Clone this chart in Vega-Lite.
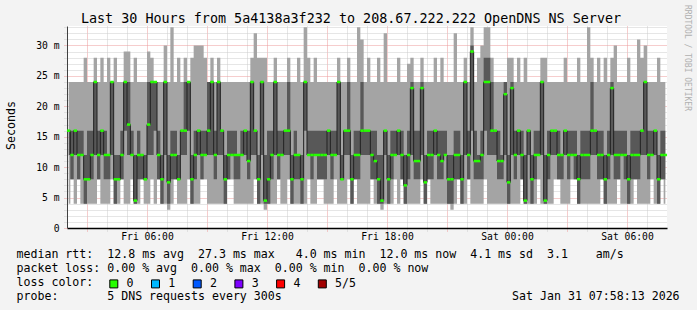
{
"$schema":"https://vega.github.io/schema/vega-lite/v6.json",
"width":600,"height":202,
"autosize":{"type":"none"},
"padding":{"left":67,"top":26,"right":30,"bottom":82},
"background":"#f3f3f3",
"title":{"text":"Last 30 Hours from 5a4138a3f232 to 208.67.222.222 OpenDNS NS Server","font":"DejaVu Sans Mono","fontSize":13.4,"fontWeight":"normal","color":"#000000","anchor":"middle","frame":"group","dx":-16,"dy":34,"baseline":"alphabetic","offset":2},
"data":{"values":[
{"t":"2026-01-30T02:05","lo":4,"q1":12,"med":16,"q3":16,"hi":24},
{"t":"2026-01-30T02:15","lo":8,"q1":8,"med":12,"q3":16,"hi":24},
{"t":"2026-01-30T02:25","lo":4,"q1":12,"med":16,"q3":16,"hi":24},
{"t":"2026-01-30T02:35","lo":8,"q1":8,"med":12,"q3":16,"hi":24},
{"t":"2026-01-30T02:45","lo":4,"q1":12,"med":12,"q3":16,"hi":24},
{"t":"2026-01-30T02:55","lo":4,"q1":4,"med":8,"q3":12,"hi":28},
{"t":"2026-01-30T03:05","lo":4,"q1":8,"med":8,"q3":16,"hi":24},
{"t":"2026-01-30T03:15","lo":4,"q1":8,"med":12,"q3":16,"hi":24},
{"t":"2026-01-30T03:25","lo":4,"q1":12,"med":24,"q3":24,"hi":28},
{"t":"2026-01-30T03:35","lo":8,"q1":8,"med":12,"q3":16,"hi":24},
{"t":"2026-01-30T03:45","lo":4,"q1":12,"med":16,"q3":16,"hi":28},
{"t":"2026-01-30T03:55","lo":4,"q1":8,"med":12,"q3":16,"hi":24},
{"t":"2026-01-30T04:05","lo":4,"q1":8,"med":12,"q3":12,"hi":28},
{"t":"2026-01-30T04:15","lo":8,"q1":12,"med":24,"q3":24,"hi":24},
{"t":"2026-01-30T04:25","lo":4,"q1":4,"med":8,"q3":12,"hi":28},
{"t":"2026-01-30T04:35","lo":4,"q1":8,"med":8,"q3":12,"hi":24},
{"t":"2026-01-30T04:45","lo":8,"q1":8,"med":12,"q3":16,"hi":24},
{"t":"2026-01-30T04:55","lo":4,"q1":16,"med":24,"q3":24,"hi":29},
{"t":"2026-01-30T05:05","lo":4,"q1":12,"med":17,"q3":24,"hi":29},
{"t":"2026-01-30T05:15","lo":8,"q1":12,"med":12,"q3":16,"hi":24},
{"t":"2026-01-30T05:25","lo":4,"q1":4,"med":4.5,"q3":12,"hi":28},
{"t":"2026-01-30T05:35","lo":4,"q1":8,"med":12,"q3":16,"hi":24},
{"t":"2026-01-30T05:45","lo":8,"q1":8,"med":12,"q3":12,"hi":24},
{"t":"2026-01-30T05:55","lo":4,"q1":8,"med":8,"q3":12,"hi":24},
{"t":"2026-01-30T06:05","lo":4,"q1":12,"med":17,"q3":24,"hi":29},
{"t":"2026-01-30T06:15","lo":8,"q1":12,"med":24,"q3":24,"hi":28},
{"t":"2026-01-30T06:25","lo":4,"q1":16,"med":24,"q3":24,"hi":24},
{"t":"2026-01-30T06:35","lo":8,"q1":8,"med":12,"q3":16,"hi":24},
{"t":"2026-01-30T06:45","lo":4,"q1":4,"med":8,"q3":12,"hi":24},
{"t":"2026-01-30T06:55","lo":4,"q1":12,"med":24,"q3":24,"hi":30},
{"t":"2026-01-30T07:05","lo":3,"q1":4,"med":7.5,"q3":12,"hi":24},
{"t":"2026-01-30T07:15","lo":4,"q1":8,"med":12,"q3":16,"hi":33},
{"t":"2026-01-30T07:25","lo":8,"q1":8,"med":12,"q3":16,"hi":24},
{"t":"2026-01-30T07:35","lo":4,"q1":8,"med":8,"q3":12,"hi":28},
{"t":"2026-01-30T07:45","lo":4,"q1":12,"med":16,"q3":16,"hi":24},
{"t":"2026-01-30T07:55","lo":4,"q1":12,"med":16,"q3":24,"hi":28},
{"t":"2026-01-30T08:05","lo":8,"q1":16,"med":24,"q3":24,"hi":24},
{"t":"2026-01-30T08:15","lo":4,"q1":4,"med":8,"q3":12,"hi":28},
{"t":"2026-01-30T08:25","lo":4,"q1":8,"med":12,"q3":16,"hi":30},
{"t":"2026-01-30T08:35","lo":4,"q1":12,"med":16,"q3":16,"hi":30},
{"t":"2026-01-30T08:45","lo":8,"q1":8,"med":12,"q3":16,"hi":30},
{"t":"2026-01-30T08:55","lo":8,"q1":12,"med":12,"q3":16,"hi":28},
{"t":"2026-01-30T09:05","lo":4,"q1":12,"med":16,"q3":24,"hi":24},
{"t":"2026-01-30T09:15","lo":4,"q1":12,"med":24,"q3":24,"hi":28},
{"t":"2026-01-30T09:25","lo":4,"q1":8,"med":12,"q3":16,"hi":24},
{"t":"2026-01-30T09:35","lo":4,"q1":12,"med":24,"q3":24,"hi":28},
{"t":"2026-01-30T09:45","lo":4,"q1":12,"med":16,"q3":16,"hi":24},
{"t":"2026-01-30T09:55","lo":4,"q1":4,"med":8,"q3":12,"hi":24},
{"t":"2026-01-30T10:05","lo":8,"q1":8,"med":12,"q3":16,"hi":24},
{"t":"2026-01-30T10:15","lo":8,"q1":12,"med":12,"q3":16,"hi":24},
{"t":"2026-01-30T10:25","lo":4,"q1":8,"med":12,"q3":16,"hi":24},
{"t":"2026-01-30T10:35","lo":4,"q1":8,"med":12,"q3":12,"hi":24},
{"t":"2026-01-30T10:45","lo":4,"q1":12,"med":12,"q3":16,"hi":24},
{"t":"2026-01-30T10:55","lo":4,"q1":12,"med":16,"q3":16,"hi":24},
{"t":"2026-01-30T11:05","lo":4,"q1":8,"med":11,"q3":16,"hi":24},
{"t":"2026-01-30T11:15","lo":4,"q1":12,"med":24,"q3":24,"hi":28},
{"t":"2026-01-30T11:25","lo":8,"q1":12,"med":16,"q3":16,"hi":32},
{"t":"2026-01-30T11:35","lo":4,"q1":4,"med":8,"q3":12,"hi":28},
{"t":"2026-01-30T11:45","lo":4,"q1":12,"med":24,"q3":24,"hi":28},
{"t":"2026-01-30T11:55","lo":3,"q1":4,"med":4.5,"q3":12,"hi":28},
{"t":"2026-01-30T12:05","lo":4,"q1":4,"med":8,"q3":16,"hi":24},
{"t":"2026-01-30T12:15","lo":4,"q1":8,"med":12,"q3":16,"hi":24},
{"t":"2026-01-30T12:25","lo":4,"q1":12,"med":24,"q3":24,"hi":28},
{"t":"2026-01-30T12:35","lo":8,"q1":8,"med":12,"q3":16,"hi":24},
{"t":"2026-01-30T12:45","lo":4,"q1":12,"med":12,"q3":16,"hi":24},
{"t":"2026-01-30T12:55","lo":4,"q1":12,"med":16,"q3":16,"hi":24},
{"t":"2026-01-30T13:05","lo":8,"q1":12,"med":16,"q3":24,"hi":28},
{"t":"2026-01-30T13:15","lo":4,"q1":4,"med":8,"q3":12,"hi":24},
{"t":"2026-01-30T13:25","lo":4,"q1":8,"med":12,"q3":16,"hi":24},
{"t":"2026-01-30T13:35","lo":4,"q1":8,"med":12,"q3":12,"hi":28},
{"t":"2026-01-30T13:45","lo":4,"q1":4,"med":8,"q3":12,"hi":24},
{"t":"2026-01-30T13:55","lo":4,"q1":16,"med":24,"q3":24,"hi":33},
{"t":"2026-01-30T14:05","lo":8,"q1":12,"med":12,"q3":16,"hi":28},
{"t":"2026-01-30T14:15","lo":4,"q1":8,"med":12,"q3":16,"hi":24},
{"t":"2026-01-30T14:25","lo":4,"q1":12,"med":12,"q3":16,"hi":28},
{"t":"2026-01-30T14:35","lo":8,"q1":8,"med":12,"q3":16,"hi":24},
{"t":"2026-01-30T14:45","lo":8,"q1":8,"med":12,"q3":16,"hi":24},
{"t":"2026-01-30T14:55","lo":4,"q1":8,"med":12,"q3":16,"hi":24},
{"t":"2026-01-30T15:05","lo":4,"q1":12,"med":16,"q3":16,"hi":24},
{"t":"2026-01-30T15:15","lo":4,"q1":8,"med":12,"q3":16,"hi":24},
{"t":"2026-01-30T15:25","lo":8,"q1":12,"med":12,"q3":16,"hi":24},
{"t":"2026-01-30T15:35","lo":4,"q1":12,"med":24,"q3":24,"hi":28},
{"t":"2026-01-30T15:45","lo":4,"q1":8,"med":8,"q3":12,"hi":24},
{"t":"2026-01-30T15:55","lo":4,"q1":12,"med":16,"q3":16,"hi":24},
{"t":"2026-01-30T16:05","lo":8,"q1":12,"med":16,"q3":24,"hi":28},
{"t":"2026-01-30T16:15","lo":4,"q1":4,"med":8,"q3":12,"hi":24},
{"t":"2026-01-30T16:25","lo":8,"q1":8,"med":12,"q3":16,"hi":24},
{"t":"2026-01-30T16:35","lo":4,"q1":8,"med":12,"q3":16,"hi":33},
{"t":"2026-01-30T16:45","lo":4,"q1":12,"med":16,"q3":24,"hi":31},
{"t":"2026-01-30T16:55","lo":4,"q1":12,"med":16,"q3":16,"hi":24},
{"t":"2026-01-30T17:05","lo":4,"q1":12,"med":16,"q3":16,"hi":28},
{"t":"2026-01-30T17:15","lo":8,"q1":8,"med":12,"q3":16,"hi":24},
{"t":"2026-01-30T17:25","lo":4,"q1":8,"med":11,"q3":16,"hi":24},
{"t":"2026-01-30T17:35","lo":4,"q1":4,"med":8,"q3":12,"hi":28},
{"t":"2026-01-30T17:45","lo":3,"q1":4,"med":4.5,"q3":12,"hi":24},
{"t":"2026-01-30T17:55","lo":4,"q1":12,"med":16,"q3":16,"hi":32},
{"t":"2026-01-30T18:05","lo":4,"q1":4,"med":8,"q3":12,"hi":24},
{"t":"2026-01-30T18:15","lo":4,"q1":8,"med":12,"q3":16,"hi":24},
{"t":"2026-01-30T18:25","lo":8,"q1":12,"med":12,"q3":16,"hi":24},
{"t":"2026-01-30T18:35","lo":4,"q1":12,"med":16,"q3":16,"hi":28},
{"t":"2026-01-30T18:45","lo":8,"q1":8,"med":12,"q3":16,"hi":24},
{"t":"2026-01-30T18:55","lo":4,"q1":4,"med":7,"q3":12,"hi":24},
{"t":"2026-01-30T19:05","lo":4,"q1":8,"med":12,"q3":16,"hi":27},
{"t":"2026-01-30T19:15","lo":4,"q1":12,"med":23,"q3":24,"hi":28},
{"t":"2026-01-30T19:25","lo":4,"q1":8,"med":11,"q3":16,"hi":24},
{"t":"2026-01-30T19:35","lo":4,"q1":8,"med":11,"q3":16,"hi":24},
{"t":"2026-01-30T19:45","lo":8,"q1":12,"med":23,"q3":24,"hi":28},
{"t":"2026-01-30T19:55","lo":4,"q1":4,"med":7.5,"q3":12,"hi":24},
{"t":"2026-01-30T20:05","lo":8,"q1":8,"med":12,"q3":16,"hi":24},
{"t":"2026-01-30T20:15","lo":4,"q1":8,"med":12,"q3":16,"hi":24},
{"t":"2026-01-30T20:25","lo":4,"q1":12,"med":16,"q3":16,"hi":28},
{"t":"2026-01-30T20:35","lo":4,"q1":8,"med":12,"q3":16,"hi":24},
{"t":"2026-01-30T20:45","lo":4,"q1":8,"med":11,"q3":16,"hi":28},
{"t":"2026-01-30T20:55","lo":4,"q1":12,"med":12,"q3":16,"hi":24},
{"t":"2026-01-30T21:05","lo":4,"q1":4,"med":8,"q3":12,"hi":24},
{"t":"2026-01-30T21:15","lo":3,"q1":4,"med":8,"q3":12,"hi":24},
{"t":"2026-01-30T21:25","lo":4,"q1":8,"med":12,"q3":16,"hi":32},
{"t":"2026-01-30T21:35","lo":8,"q1":8,"med":12,"q3":16,"hi":24},
{"t":"2026-01-30T21:45","lo":4,"q1":4,"med":8,"q3":12,"hi":24},
{"t":"2026-01-30T21:55","lo":4,"q1":12,"med":24,"q3":24,"hi":28},
{"t":"2026-01-30T22:05","lo":8,"q1":8,"med":12,"q3":16,"hi":24},
{"t":"2026-01-30T22:15","lo":4,"q1":16,"med":29,"q3":30,"hi":33},
{"t":"2026-01-30T22:25","lo":4,"q1":8,"med":11,"q3":16,"hi":24},
{"t":"2026-01-30T22:35","lo":4,"q1":8,"med":11,"q3":12,"hi":28},
{"t":"2026-01-30T22:45","lo":4,"q1":8,"med":12,"q3":16,"hi":30},
{"t":"2026-01-30T22:55","lo":8,"q1":16,"med":24,"q3":28,"hi":33},
{"t":"2026-01-30T23:05","lo":4,"q1":12,"med":24,"q3":28,"hi":33},
{"t":"2026-01-30T23:15","lo":4,"q1":12,"med":16,"q3":24,"hi":28},
{"t":"2026-01-30T23:25","lo":4,"q1":12,"med":16,"q3":16,"hi":24},
{"t":"2026-01-30T23:35","lo":4,"q1":8,"med":11,"q3":16,"hi":24},
{"t":"2026-01-30T23:45","lo":4,"q1":8,"med":11,"q3":12,"hi":24},
{"t":"2026-01-30T23:55","lo":4,"q1":12,"med":22,"q3":24,"hi":24},
{"t":"2026-01-31T00:05","lo":4,"q1":4,"med":7.5,"q3":12,"hi":28},
{"t":"2026-01-31T00:15","lo":4,"q1":12,"med":23,"q3":24,"hi":28},
{"t":"2026-01-31T00:25","lo":4,"q1":8,"med":12,"q3":16,"hi":24},
{"t":"2026-01-31T00:35","lo":4,"q1":12,"med":16,"q3":16,"hi":28},
{"t":"2026-01-31T00:45","lo":8,"q1":8,"med":12,"q3":16,"hi":24},
{"t":"2026-01-31T00:55","lo":4,"q1":4,"med":4.5,"q3":12,"hi":28},
{"t":"2026-01-31T01:05","lo":4,"q1":12,"med":16,"q3":16,"hi":24},
{"t":"2026-01-31T01:15","lo":4,"q1":4,"med":8,"q3":12,"hi":24},
{"t":"2026-01-31T01:25","lo":4,"q1":8,"med":12,"q3":16,"hi":24},
{"t":"2026-01-31T01:35","lo":8,"q1":12,"med":12,"q3":16,"hi":24},
{"t":"2026-01-31T01:45","lo":4,"q1":12,"med":24,"q3":24,"hi":28},
{"t":"2026-01-31T01:55","lo":4,"q1":4,"med":4.5,"q3":12,"hi":28},
{"t":"2026-01-31T02:05","lo":4,"q1":8,"med":12,"q3":16,"hi":24},
{"t":"2026-01-31T02:15","lo":4,"q1":12,"med":16,"q3":16,"hi":24},
{"t":"2026-01-31T02:25","lo":8,"q1":12,"med":16,"q3":16,"hi":24},
{"t":"2026-01-31T02:35","lo":8,"q1":8,"med":12,"q3":16,"hi":24},
{"t":"2026-01-31T02:45","lo":4,"q1":8,"med":12,"q3":12,"hi":24},
{"t":"2026-01-31T02:55","lo":4,"q1":12,"med":16,"q3":16,"hi":28},
{"t":"2026-01-31T03:05","lo":4,"q1":8,"med":12,"q3":16,"hi":24},
{"t":"2026-01-31T03:15","lo":8,"q1":12,"med":12,"q3":16,"hi":24},
{"t":"2026-01-31T03:25","lo":8,"q1":8,"med":12,"q3":16,"hi":24},
{"t":"2026-01-31T03:35","lo":4,"q1":4,"med":8,"q3":12,"hi":28},
{"t":"2026-01-31T03:45","lo":4,"q1":8,"med":12,"q3":16,"hi":24},
{"t":"2026-01-31T03:55","lo":4,"q1":8,"med":12,"q3":16,"hi":24},
{"t":"2026-01-31T04:05","lo":4,"q1":8,"med":12,"q3":16,"hi":33},
{"t":"2026-01-31T04:15","lo":4,"q1":12,"med":16,"q3":24,"hi":28},
{"t":"2026-01-31T04:25","lo":4,"q1":12,"med":16,"q3":16,"hi":24},
{"t":"2026-01-31T04:35","lo":4,"q1":8,"med":12,"q3":16,"hi":28},
{"t":"2026-01-31T04:45","lo":8,"q1":8,"med":12,"q3":16,"hi":24},
{"t":"2026-01-31T04:55","lo":4,"q1":4,"med":8,"q3":12,"hi":28},
{"t":"2026-01-31T05:05","lo":4,"q1":8,"med":12,"q3":16,"hi":24},
{"t":"2026-01-31T05:15","lo":4,"q1":12,"med":23,"q3":24,"hi":28},
{"t":"2026-01-31T05:25","lo":4,"q1":8,"med":12,"q3":16,"hi":30},
{"t":"2026-01-31T05:35","lo":8,"q1":8,"med":12,"q3":16,"hi":24},
{"t":"2026-01-31T05:45","lo":4,"q1":12,"med":12,"q3":16,"hi":24},
{"t":"2026-01-31T05:55","lo":4,"q1":8,"med":12,"q3":16,"hi":24},
{"t":"2026-01-31T06:05","lo":4,"q1":4,"med":8,"q3":12,"hi":28},
{"t":"2026-01-31T06:15","lo":4,"q1":8,"med":12,"q3":16,"hi":24},
{"t":"2026-01-31T06:25","lo":8,"q1":8,"med":12,"q3":16,"hi":24},
{"t":"2026-01-31T06:35","lo":4,"q1":8,"med":12,"q3":16,"hi":31},
{"t":"2026-01-31T06:45","lo":4,"q1":12,"med":16,"q3":16,"hi":28},
{"t":"2026-01-31T06:55","lo":4,"q1":12,"med":24,"q3":24,"hi":30},
{"t":"2026-01-31T07:05","lo":4,"q1":8,"med":12,"q3":16,"hi":24},
{"t":"2026-01-31T07:15","lo":8,"q1":12,"med":12,"q3":16,"hi":24},
{"t":"2026-01-31T07:25","lo":4,"q1":12,"med":16,"q3":16,"hi":24},
{"t":"2026-01-31T07:35","lo":4,"q1":4,"med":8,"q3":12,"hi":28},
{"t":"2026-01-31T07:45","lo":8,"q1":8,"med":12,"q3":16,"hi":24},
{"t":"2026-01-31T07:55","lo":4,"q1":8,"med":12,"q3":16,"hi":24}
]},
"layer":[
{"mark":{"type":"area","interpolate":"step","color":"#a4a4a4"},
 "encoding":{
  "x":{"field":"t","type":"temporal","scale":{"domain":[{"year":2026,"month":1,"date":30,"hours":2},{"year":2026,"month":1,"date":31,"hours":8}]},
   "axis":{"orient":"bottom","title":null,"labels":false,"domain":false,"grid":true,"gridColor":"#cccccc","gridDash":[1,1],"ticks":true,"tickSize":3,"tickColor":"#cccccc","tickDash":[1,1],
    "values":[{"year":2026,"month":1,"date":30,"hours":4},{"year":2026,"month":1,"date":30,"hours":5},{"year":2026,"month":1,"date":30,"hours":7},{"year":2026,"month":1,"date":30,"hours":8},{"year":2026,"month":1,"date":30,"hours":10},{"year":2026,"month":1,"date":30,"hours":11},{"year":2026,"month":1,"date":30,"hours":13},{"year":2026,"month":1,"date":30,"hours":14},{"year":2026,"month":1,"date":30,"hours":16},{"year":2026,"month":1,"date":30,"hours":17},{"year":2026,"month":1,"date":30,"hours":19},{"year":2026,"month":1,"date":30,"hours":20},{"year":2026,"month":1,"date":30,"hours":22},{"year":2026,"month":1,"date":30,"hours":23},{"year":2026,"month":1,"date":31,"hours":1},{"year":2026,"month":1,"date":31,"hours":2},{"year":2026,"month":1,"date":31,"hours":4},{"year":2026,"month":1,"date":31,"hours":5},{"year":2026,"month":1,"date":31,"hours":7}]}},
  "y":{"field":"lo","type":"quantitative","scale":{"domain":[0,33.2],"nice":false,"zero":true},
   "axis":{"orient":"left","title":null,"labels":false,"domain":false,"grid":true,"gridColor":"#cccccc","gridDash":[1,1],"ticks":true,"tickSize":3,"tickColor":"#cccccc","tickDash":[1,1],
    "values":[1,2,3,4,6,7,8,9,11,12,13,14,16,17,18,19,21,22,23,24,26,27,28,29,31,32,33]}},
  "y2":{"field":"hi"}}},
{"mark":{"type":"area","interpolate":"step","color":"#585858"},
 "encoding":{
  "x":{"field":"t","type":"temporal","scale":{"domain":[{"year":2026,"month":1,"date":30,"hours":2},{"year":2026,"month":1,"date":31,"hours":8}]},
   "axis":{"orient":"bottom","title":null,"labels":false,"domain":false,"grid":true,"gridColor":"#ec9a9a","gridDash":[1,1],"ticks":true,"tickSize":3,"tickColor":"#ec9a9a","tickDash":[1,1],
    "values":[{"year":2026,"month":1,"date":30,"hours":3},{"year":2026,"month":1,"date":30,"hours":6},{"year":2026,"month":1,"date":30,"hours":9},{"year":2026,"month":1,"date":30,"hours":12},{"year":2026,"month":1,"date":30,"hours":15},{"year":2026,"month":1,"date":30,"hours":18},{"year":2026,"month":1,"date":30,"hours":21},{"year":2026,"month":1,"date":31,"hours":0},{"year":2026,"month":1,"date":31,"hours":3},{"year":2026,"month":1,"date":31,"hours":6}]}},
  "y":{"field":"q1","type":"quantitative","scale":{"domain":[0,33.2],"nice":false,"zero":true},
   "axis":{"orient":"left","values":[0,5,10,15,20,25,30],"grid":true,"gridColor":"#ec9a9a","gridDash":[1,1],"ticks":true,"tickSize":3,"tickColor":"#ec9a9a","tickDash":[1,1],
    "domain":true,"domainColor":"#404040","labelFont":"DejaVu Sans Mono","labelFontSize":9.7,"labelColor":"#000000","labelPadding":5,
    "labelExpr":"datum.value == 0 ? '0\u00a0\u00a0' : datum.value + '\u00a0m'",
    "title":"Seconds","titleFont":"DejaVu Sans Mono","titleFontSize":11.6,"titleFontWeight":"normal","titleColor":"#000000","titleAngle":-90,"titleX":-56,"titleY":99,"titleAlign":"center","titleBaseline":"middle"}},
  "y2":{"field":"q3"}}},
{"mark":{"type":"line","interpolate":"step","color":"#202020","strokeWidth":1},
 "encoding":{
  "x":{"field":"t","type":"temporal","scale":{"domain":[{"year":2026,"month":1,"date":30,"hours":2},{"year":2026,"month":1,"date":31,"hours":8}]},
   "axis":{"orient":"bottom","grid":false,"ticks":false,"domain":true,"domainColor":"#000000","domainWidth":1.5,"format":"%a %H:%M","labelFont":"DejaVu Sans Mono","labelFontSize":9.7,"labelColor":"#000000","labelPadding":3,"labelFlush":false,"labelOverlap":false,
    "values":[{"year":2026,"month":1,"date":30,"hours":6},{"year":2026,"month":1,"date":30,"hours":12},{"year":2026,"month":1,"date":30,"hours":18},{"year":2026,"month":1,"date":31,"hours":0},{"year":2026,"month":1,"date":31,"hours":6}],
    "title":["median rtt:\u00a0\u00a012.8 ms avg\u00a0\u00a027.3 ms max\u00a0\u00a0\u00a04.0 ms min\u00a0\u00a012.0 ms now\u00a0\u00a04.1 ms sd\u00a0\u00a03.1\u00a0\u00a0\u00a0\u00a0am/s","packet loss: 0.00 % avg\u00a0\u00a00.00 % max\u00a0\u00a00.00 % min\u00a0\u00a00.00 % now","loss color:","probe:\u00a0\u00a0\u00a0\u00a0\u00a0\u00a0\u00a05 DNS requests every 300s\u00a0\u00a0\u00a0\u00a0\u00a0\u00a0\u00a0\u00a0\u00a0\u00a0\u00a0\u00a0\u00a0\u00a0\u00a0\u00a0\u00a0\u00a0\u00a0\u00a0\u00a0\u00a0\u00a0\u00a0\u00a0\u00a0\u00a0\u00a0\u00a0\u00a0\u00a0\u00a0\u00a0Sat Jan 31 07:58:13 2026"],
    "titleFont":"DejaVu Sans Mono","titleFontSize":11.6,"titleFontWeight":"normal","titleColor":"#000000","titleLineHeight":14,"titleAlign":"left","titleBaseline":"top","titleX":-51,"titleY":20}},
  "y":{"field":"med","type":"quantitative","scale":{"domain":[0,33.2],"nice":false,"zero":true},
   "axis":{"orient":"right","labels":false,"ticks":false,"domain":false,"grid":false,
    "title":"RRDTOOL / TOBI OETIKER","titleAngle":90,"titleFont":"DejaVu Sans Mono","titleFontSize":8,"titleFontWeight":"normal","titleColor":"#b0b0b0","titleX":19.7,"titleY":31.5,"titleAlign":"center","titleBaseline":"middle"}}}},
{"mark":{"type":"tick","orient":"horizontal","size":3.4,"thickness":2.5,"opacity":1},
 "encoding":{
  "x":{"field":"t","type":"temporal","scale":{"domain":[{"year":2026,"month":1,"date":30,"hours":2},{"year":2026,"month":1,"date":31,"hours":8}]},"axis":null},
  "y":{"field":"med","type":"quantitative","scale":{"domain":[0,33.2],"nice":false,"zero":true},"axis":null},
  "color":{"datum":"0","type":"nominal","scale":{"domain":["0","1","2","3","4","5/5"],"range":["#26ff00","#00b8ff","#0059ff","#7e00ff","#ff0000","#a10000"]},
   "legend":{"orient":"none","legendX":41,"legendY":252,"direction":"horizontal","title":null,"symbolType":"square","symbolSize":64,"symbolStrokeColor":"#000000","symbolStrokeWidth":1,"symbolOpacity":1,"labelFont":"DejaVu Sans Mono","labelFontSize":11.6,"labelColor":"#000000","labelOffset":7,"columnPadding":14.7,"gridAlign":"each","padding":0}}}}
],
"resolve":{"axis":{"x":"independent","y":"independent"}},
"config":{"view":{"fill":"#ffffff","stroke":null}}
}
